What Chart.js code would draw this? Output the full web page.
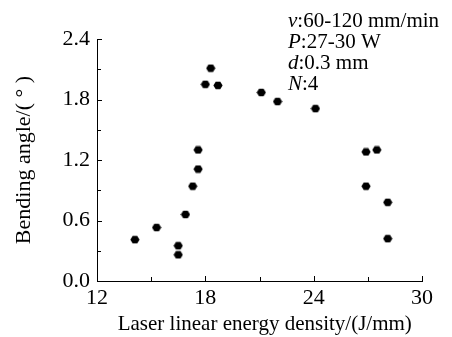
<!DOCTYPE html>
<html>
<head>
<meta charset="utf-8">
<script src="https://cdn.jsdelivr.net/npm/chart.js@4"></script>
<style>
  html, body { margin: 0; padding: 0; background: #fff; }
  #wrap { width: 452px; height: 337px; }
</style>
</head>
<body>
<div id="wrap"><canvas id="myChart" width="452" height="337"></canvas></div>
<script>
  // energy density (J/mm) vs bending angle (deg)
  const energy = [14.1, 15.3, 16.5, 16.5, 16.9, 17.3, 17.6, 17.6, 18.0, 18.3, 18.7,
                  21.1, 22.0, 24.1, 26.9, 27.5, 26.9, 28.1, 28.1];
  const angle = [0.41, 0.53, 0.35, 0.26, 0.66, 0.94, 1.11, 1.30, 1.95, 2.11, 1.94,
                 1.87, 1.78, 1.71, 1.28, 1.30, 0.94, 0.78, 0.42];
  const xTicks = [12, 18, 24, 30];
  const yTicks = [0.0, 0.6, 1.2, 1.8, 2.4];
  const notes = [['v', ':60-120 mm/min'], ['P', ':27-30 W'], ['d', ':0.3 mm'], ['N', ':4']];

  const FONT = '"Liberation Serif", "Times New Roman", serif';

  // hexagon marker
  const hex = document.createElement('canvas');
  hex.width = 10; hex.height = 9;
  let hc = hex.getContext('2d');
  hc.fillStyle = '#000';
  hc.beginPath();
  for (let i = 0; i < 6; i++) {
    const a = i * Math.PI / 3;
    const px = 5 + 4.6 * Math.cos(a), py = 4.5 + 4.4 * Math.sin(a);
    i ? hc.lineTo(px, py) : hc.moveTo(px, py);
  }
  hc.closePath();
  hc.fill();

  // inward tick marks + parameter notes
  const extras = {
    id: 'extras',
    afterDraw: (chart) => {
      const ctx = chart.ctx;
      const xs = chart.scales.x, ys = chart.scales.y;
      ctx.save();
      ctx.strokeStyle = '#000';
      ctx.lineWidth = 1;
      ctx.beginPath();
      for (let v = 12; v <= 30; v += 3) {
        const px = Math.round(xs.getPixelForValue(v)) + 0.5;
        const len = (v % 6 === 0) ? 5 : 4;
        ctx.moveTo(px, xs.top);
        ctx.lineTo(px, xs.top - len);
      }
      for (let i = 0; i <= 8; i++) {
        const py = Math.round(ys.getPixelForValue(i * 0.3)) + 0.5;
        const len = (i % 2 === 0) ? 5 : 4;
        ctx.moveTo(ys.right, py);
        ctx.lineTo(ys.right + len, py);
      }
      ctx.stroke();

      ctx.fillStyle = '#000';
      ctx.textBaseline = 'alphabetic';
      notes.forEach((n, i) => {
        const y = 27 + i * 21;
        let x = 288;
        ctx.font = 'italic 21px ' + FONT;
        ctx.fillText(n[0], x, y);
        x += ctx.measureText(n[0]).width;
        ctx.font = '21px ' + FONT;
        ctx.fillText(n[1], x, y);
      });
      ctx.restore();
    }
  };

  let myChart = new Chart(document.getElementById('myChart'), {
    type: 'scatter',
    data: {
      datasets: [{
        label: 'Bending angle',
        data: energy.map((e, i) => ({ x: e, y: angle[i] })),
        pointStyle: hex,
        backgroundColor: '#000',
        borderColor: '#000'
      }]
    },
    plugins: [extras],
    options: {
      responsive: false,
      animation: false,
      layout: { padding: { left: 0, right: 30, top: 39, bottom: 0 } },
      plugins: {
        legend: { display: false },
        tooltip: { enabled: false }
      },
      scales: {
        x: {
          type: 'linear',
          min: 12, max: 30,
          afterBuildTicks: (s) => { s.ticks = xTicks.map(v => ({ value: v })); },
          afterFit: (s) => { s.height = 56; },
          grid: { display: false, drawTicks: false },
          border: { display: true, color: '#000', width: 1 },
          ticks: { color: '#000', padding: 4, maxRotation: 0, font: { family: FONT, size: 22 } },
          title: {
            display: true,
            text: '\u2002Laser linear energy density/(J/mm)',
            color: '#000',
            font: { family: FONT, size: 21 },
            padding: { top: 0, bottom: 0 }
          }
        },
        y: {
          type: 'linear',
          min: 0, max: 2.4,
          afterBuildTicks: (s) => { s.ticks = yTicks.map(v => ({ value: v })); },
          afterFit: (s) => { s.width = 97; },
          grid: { display: false, drawTicks: false },
          border: { display: true, color: '#000', width: 1 },
          ticks: {
            color: '#000', padding: 7,
            font: { family: FONT, size: 22 },
            callback: (v) => Number(v).toFixed(1)
          },
          title: {
            display: true,
            text: 'Bending angle/( ° )',
            color: '#000',
            font: { family: FONT, size: 22 },
            padding: { top: 11, bottom: 0 }
          }
        }
      }
    }
  })
</script>
</body>
</html>
